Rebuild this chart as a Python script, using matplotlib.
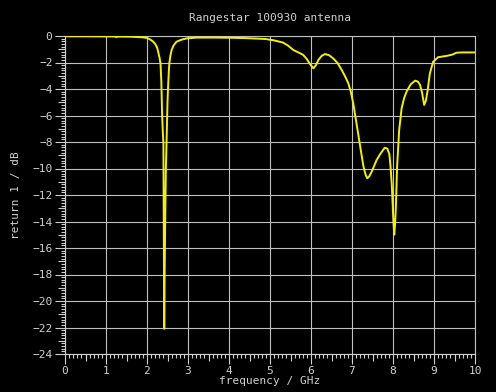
import matplotlib
matplotlib.use("Agg")
import matplotlib.pyplot as plt
import matplotlib.ticker as ticker

# return loss trace
freq_ghz = [0.0, 0.5, 1.0, 1.2, 1.25, 1.3, 1.6, 1.9, 2.0, 2.07, 2.14, 2.2, 2.25,
            2.28, 2.31, 2.33, 2.35, 2.37, 2.39, 2.40, 2.41, 2.42, 2.43, 2.446,
            2.46, 2.48, 2.50, 2.51, 2.53, 2.545, 2.57, 2.60, 2.65, 2.72, 2.85,
            2.97, 3.2, 3.6, 4.0, 4.4, 4.7, 4.9, 5.1, 5.32, 5.45, 5.57, 5.7,
            5.81, 5.9, 5.97, 6.06, 6.12, 6.18, 6.26, 6.34, 6.44, 6.54, 6.65,
            6.75, 6.84, 6.91, 6.97, 7.03, 7.11, 7.2, 7.28, 7.33, 7.37, 7.42,
            7.48, 7.6, 7.7, 7.8, 7.86, 7.91, 7.94, 7.97, 7.99, 8.01, 8.03,
            8.05, 8.07, 8.1, 8.15, 8.21, 8.27, 8.33, 8.43, 8.54, 8.61, 8.66,
            8.71, 8.76, 8.8, 8.84, 8.9, 8.98, 9.1, 9.31, 9.45, 9.55, 9.7, 10.0]
return_db = [-0.02, -0.02, -0.03, -0.03, -0.08, -0.04, -0.05, -0.1, -0.15, -0.25,
             -0.4, -0.6, -0.9, -1.3, -1.7, -2.1, -3.5, -6.1, -7.5, -8.1, -15.0,
             -22.1, -18.0, -13.4, -10.0, -7.6, -5.0, -4.1, -2.8, -2.06, -1.5,
             -1.06, -0.7, -0.43, -0.27, -0.18, -0.12, -0.12, -0.13, -0.16,
             -0.2, -0.23, -0.33, -0.5, -0.75, -1.06, -1.25, -1.43, -1.75,
             -2.1, -2.44, -2.2, -1.81, -1.5, -1.36, -1.45, -1.69, -2.05, -2.57,
             -3.1, -3.57, -4.2, -5.08, -6.6, -8.35, -9.86, -10.45, -10.74,
             -10.6, -10.24, -9.36, -8.85, -8.43, -8.5, -8.9, -9.86, -11.2,
             -12.6, -14.0, -15.0, -14.2, -12.9, -9.86, -7.1, -5.46, -4.7,
             -4.2, -3.65, -3.37, -3.45, -3.7, -4.3, -5.2, -4.9, -4.2, -2.8,
             -1.94, -1.6, -1.5, -1.4, -1.26, -1.24, -1.24]

x_ticks = list(range(0, 11))
y_ticks = list(range(-24, 1, 2))

fg = "#d0d0d0"
grid_col = "#c0c0c0"

plt.rcParams["font.family"] = ["DejaVu Sans Mono"]

fig = plt.figure(figsize=(4.96, 3.92), dpi=100, facecolor="black")
ax = fig.add_axes([65 / 496, 38 / 392, 410 / 496, 318 / 392], facecolor="black")

ax.plot(freq_ghz, return_db, color="#f2f200", lw=1.4, zorder=3)

ax.set_xlim(0, 10)
ax.set_ylim(-24, 0)
ax.set_xticks(x_ticks)
ax.set_yticks(y_ticks)
ax.set_yticklabels([str(v).replace("-", "\u2212") for v in y_ticks])
ax.xaxis.set_minor_locator(ticker.MultipleLocator(0.1))
ax.yaxis.set_minor_locator(ticker.MultipleLocator(0.2))
ax.grid(True, which="major", color=grid_col, lw=0.8)
ax.tick_params(which="major", colors=fg, length=7, width=0.8, labelsize=8, pad=2)
ax.tick_params(which="minor", colors=fg, length=3, width=0.8)

for s in ax.spines.values():
    s.set_color(fg)
    s.set_linewidth(0.8)
ax.spines["top"].set_color(grid_col)
ax.spines["right"].set_color(grid_col)

# medium ticks at the half steps
sx = ax.secondary_xaxis("bottom")
sx.set_xticks([i + 0.5 for i in range(10)])
sx.tick_params(colors=fg, length=5, width=0.8, labelbottom=False)
sx.spines["bottom"].set_visible(False)
sy = ax.secondary_yaxis("left")
sy.set_yticks([v - 1 for v in y_ticks[1:]])
sy.tick_params(colors=fg, length=5, width=0.8, labelleft=False)
sy.spines["left"].set_visible(False)

ax.set_title("Rangestar 100930 antenna", color=fg, fontsize=8, pad=11)
ax.set_xlabel("frequency / GHz", color=fg, fontsize=8, labelpad=0)
ax.set_ylabel("return 1 / dB", color=fg, fontsize=8, labelpad=8)

fig.savefig("out.png", dpi=100, facecolor="black")
